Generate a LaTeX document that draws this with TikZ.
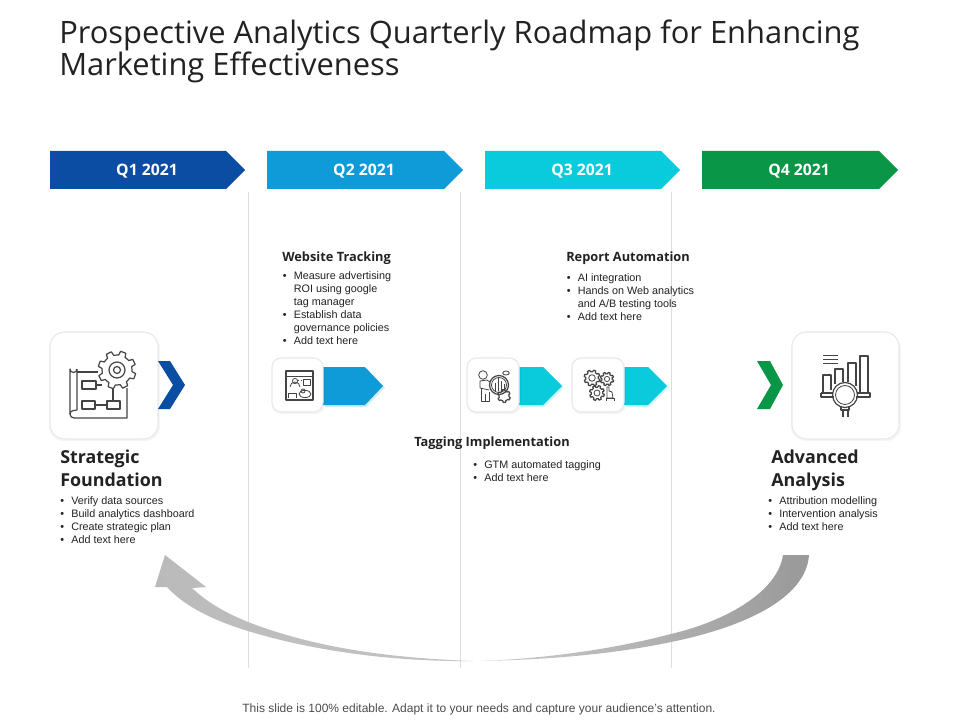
\documentclass[tikz,border=0pt]{standalone}
\usepackage{fontspec}
\setmainfont{Liberation Sans}
\newfontfamily\headfont{Open Sans}
\usetikzlibrary{calc}
\definecolor{qone}{HTML}{0B4DA2}
\definecolor{qtwo}{HTML}{0F9BD7}
\definecolor{qthree}{HTML}{0ACBDB}
\definecolor{qfour}{HTML}{0A9647}
\definecolor{ink}{HTML}{444444}
\definecolor{txt}{HTML}{222222}
\newcommand{\itm}[1]{\makebox[8.3pt][l]{•}#1}
\newcommand{\cnt}[1]{\makebox[8.3pt][l]{}#1}
% gear: cx, cy, outer radius, inner radius, step angle
\newcommand{\gearicon}[5]{%
  \begin{scope}[shift={(#1,#2)}]
    \draw[iconline] (0:#4)
      \foreach \a in {0,#5,...,359}{
        -- (\a+0.14*#5:#4) -- (\a+0.24*#5:#3) -- (\a+0.62*#5:#3) -- (\a+0.72*#5:#4)
        arc[start angle=\a+0.72*#5, end angle=\a+#5, radius=#4]
      } -- cycle;
  \end{scope}}
\tikzset{
  x=0.75pt,y=-0.75pt,
  iconline/.style={draw=ink,line width=0.9pt,line join=round},
  thinicon/.style={draw=ink,line width=0.6pt,line join=round},
  cardbox/.style={draw=black!9,line width=0.8pt,fill=white,rounded corners=11pt},
  smallcard/.style={draw=black!9,line width=0.8pt,fill=white,rounded corners=7pt},
  qlabel/.style={text=white,font=\headfont\bfseries\fontsize{11.8}{12}\selectfont,inner sep=0pt},
  bighead/.style={anchor=north west,align=left,inner sep=0pt,text=txt,font=\headfont\fontsize{13.4}{17.3}\selectfont\bfseries},
  subhead/.style={anchor=west,inner sep=0pt,text=txt,font=\headfont\bfseries\fontsize{9.6}{11}\selectfont},
  bulletlist/.style={anchor=north west,align=left,inner sep=0pt,text=txt,font=\fontsize{8.1}{9.75}\selectfont},
  divider/.style={draw=black!13,line width=0.6pt},
}
\begin{document}
\begin{tikzpicture}
\useasboundingbox (0,0) rectangle (960,720);
\fill[white] (0,0) rectangle (960,720);

% title
\node[anchor=north west,align=left,inner sep=0pt,text=txt,
  font=\headfont\fontsize{23.15}{23.9}\selectfont] (title) at (59,20)
  {Prospective Analytics Quarterly Roadmap for Enhancing\\Marketing Effectiveness};

% dividers
\coordinate (d1a) at (248,192); \coordinate (d1b) at (248,668);
\coordinate (d2a) at (460,192); \coordinate (d2b) at (460,668);
\coordinate (d3a) at (671,192); \coordinate (d3b) at (671,668);
\draw[divider] (d1a) -- (d1b);
\draw[divider] (d2a) -- (d2b);
\draw[divider] (d3a) -- (d3b);

% quarter banners
\fill[qone]   (50,151) -- (226,151) -- (245,170) -- (226,189) -- (50,189) -- cycle;
\fill[qtwo]   (267,151) -- (444,151) -- (463,170) -- (444,189) -- (267,189) -- cycle;
\fill[qthree] (485,151) -- (661,151) -- (680,170) -- (661,189) -- (485,189) -- cycle;
\fill[qfour]  (702,151) -- (879,151) -- (898,170) -- (879,189) -- (702,189) -- cycle;
\node[qlabel] (q1) at (147,171) {Q1 2021};
\node[qlabel] (q2) at (364,171) {Q2 2021};
\node[qlabel] (q3) at (582,171) {Q3 2021};
\node[qlabel] (q4) at (799,171) {Q4 2021};

% left card and chevron
\fill[black,opacity=0.04,rounded corners=11pt] (49,334) rectangle (160,441);
\draw[cardbox] (50,332) rectangle (158,439);
\fill[qone] (158,361) -- (170,361) -- (185,385) -- (170,409) -- (158,409) -- (173,385) -- cycle;

% right card and chevron
\fill[black,opacity=0.04,rounded corners=11pt] (791,334) rectangle (901,441);
\draw[cardbox] (792,332) rectangle (899,439);
\fill[qfour] (757,361) -- (770,361) -- (783,385) -- (770,409) -- (757,409) -- (771,385) -- cycle;

% icon: blueprint with gear
\draw[iconline] (77,372) -- (98,372);
\draw[iconline] (77,369) arc[start angle=0,end angle=180,radius=3.5] -- (70,414) arc[start angle=180,end angle=90,radius=4] -- (127,418) -- (127,388);
\draw[iconline] (70,414) arc[start angle=180,end angle=270,radius=3.5] -- (77,410) -- (77,369);
\draw[iconline] (82,381) rectangle (96,389);
\draw[iconline] (82,401) rectangle (95,409);
\draw[iconline] (107,401) rectangle (120,409);
\draw[iconline] (95,405) -- (107,405);
\draw[iconline] (113,401) -- (113,388);
\draw[iconline] (96,385) -- (102,385);
\gearicon{117}{370}{19}{15}{45}
\draw[iconline] (117,370) circle[radius=8];
\draw[iconline] (117,370) circle[radius=3.5];

% icon: analytics bars under magnifier
\foreach \yy in {355,359,363}{\draw[thinicon] (823,\yy) -- (838,\yy);}
\draw[iconline] (823,392) -- (823,375) -- (831,375) -- (831,390);
\draw[iconline] (835,384) -- (835,369) -- (843,369) -- (843,382);
\draw[iconline] (848,382) -- (848,363) -- (856,363) -- (856,386);
\draw[iconline] (860,392) -- (860,356) -- (868,356) -- (868,392);
\draw[iconline] (821,393) -- (833,393) (821,393) -- (821,397) -- (834,397);
\draw[iconline] (857,393) -- (870,393) -- (870,397) -- (856,397);
\draw[iconline] (845,395) circle[radius=12.5];
\draw[thinicon] (845,395) circle[radius=9.5];
\draw[iconline] (841,407) -- (841,410) -- (849,410) -- (849,407);
\draw[iconline] (843,410) -- (843,417) (848,410) -- (848,417);

% Q2 arrow, card, icon
\fill[qtwo!20] (325,369) -- (366,369) -- (385,387.5) -- (366,407) -- (325,407) -- cycle;
\fill[qtwo] (320,367) -- (365,367) -- (383,386) -- (365,405) -- (320,405) -- cycle;
\fill[black,opacity=0.04,rounded corners=7pt] (272,360) rectangle (325,414);
\draw[smallcard] (272,358) rectangle (323,412);
\draw[iconline] (286,371) rectangle (313,400);
\draw[thinicon] (286,376) -- (313,376);
\draw[thinicon] (303,379) rectangle (310,385);
\draw[thinicon] (295,381) circle[radius=2.6];
\draw[thinicon] (290,387) arc[start angle=180,end angle=360,radius=5] ;
\draw[thinicon,dash pattern=on 1pt off 1pt] (298,380) -- (303,380);
\draw[thinicon] (288,398) -- (288,393) -- (296,393) -- (296,398);
\draw[thinicon] (305,394) ellipse[x radius=6,y radius=3.6];
\draw[thinicon] (303,391) circle[radius=2];

% Q3 first arrow, card, icon
\fill[qthree!20] (521,369) -- (544,369) -- (564,387.5) -- (544,407) -- (521,407) -- cycle;
\fill[qthree] (517,367) -- (543,367) -- (562,386) -- (543,405) -- (517,405) -- cycle;
\fill[black,opacity=0.04,rounded corners=7pt] (467,360) rectangle (521,414);
\draw[smallcard] (467,358) rectangle (519,412);
\draw[thinicon] (483,375) circle[radius=4.3];
\draw[thinicon] (489,390) -- (480,388) -- (480,381) -- (487,380) -- (490,382);
\draw[thinicon] (481,388) -- (481,401) -- (489,401) -- (489,392) (485,394) -- (485,401);
\draw[iconline] (499,385) circle[radius=9.5];
\draw[thinicon] (499,385) circle[radius=7.5];
\foreach \xx/\yy in {495/383,498/378,501/381,504/384}{\draw[thinicon] (\xx,391) -- (\xx,\yy);}
\gearicon{504}{396}{6.5}{5}{60}
\draw[thinicon] (506,373) ellipse[x radius=3.3,y radius=2];

% Q3 second arrow, card, icon
\fill[qthree!20] (626,369) -- (649,369) -- (669,387.5) -- (649,407) -- (626,407) -- cycle;
\fill[qthree] (622,367) -- (648,367) -- (667,386) -- (648,405) -- (622,405) -- cycle;
\fill[black,opacity=0.04,rounded corners=7pt] (572,360) rectangle (626,414);
\draw[smallcard] (572,358) rectangle (624,412);
\gearicon{592}{378}{8}{6.3}{45}
\gearicon{607}{379}{6.8}{5.2}{45}
\gearicon{597}{393}{7.5}{5.8}{45}
\draw[thinicon] (592,378) circle[radius=3.3];
\draw[thinicon] (607,379) circle[radius=2.6];
\draw[thinicon] (597,393) circle[radius=3];
\draw[thinicon,fill=white] (607,394) -- (607,387) -- (609,387) -- (609,391) -- (612,392) -- (613,398) -- (607,398) -- cycle;
\draw[thinicon] (606,401) -- (606,398) -- (614,398) -- (614,401);

% side headings and text
\node[bighead] (sf) at (60,449.5) {Strategic\\Foundation};
\node[bulletlist] (sfl) at (60,496.5) {\itm{Verify data sources}\\\itm{Build analytics dashboard}\\\itm{Create strategic plan}\\\itm{Add text here}};
\node[bighead] (aa) at (771,449.5) {Advanced\\Analysis};
\node[bulletlist] (aal) at (768,496.5) {\itm{Attribution modelling}\\\itm{Intervention analysis}\\\itm{Add text here}};

\node[subhead] (wt) at (282,258) {Website Tracking};
\node[bulletlist] (wtl) at (282.5,271.5) {\itm{Measure advertising}\\\cnt{ROI using google}\\\cnt{tag manager}\\\itm{Establish data}\\\cnt{governance policies}\\\itm{Add text here}};
\node[subhead] (ra) at (566,258) {Report Automation};
\node[bulletlist] (ral) at (566.5,273.5) {\itm{AI integration}\\\itm{Hands on Web analytics}\\\cnt{and A/B testing tools}\\\itm{Add text here}};
\node[subhead] (ti) at (414,443) {Tagging Implementation};
\node[bulletlist] (til) at (473,460.5) {\itm{GTM  automated tagging}\\\itm{Add text here}};

% big return arrows
\shade[left color=black!27,right color=black!23]
  (165,555) -- (206,587) -- (192,588)
  .. controls (208,603) and (226,613) .. (248,622)
  .. controls (315,648) and (390,658) .. (473,661)
  .. controls (390,662) and (310,650) .. (248,631)
  .. controls (215,621) and (185,607) .. (167,587)
  -- (155,587) -- cycle;
\shade[left color=black!20,right color=black!40]
  (783,555) -- (809,555)
  .. controls (806,600) and (740,628) .. (671,642)
  .. controls (610,655) and (540,660) .. (480,661)
  .. controls (540,659) and (610,650) .. (671,634)
  .. controls (730,620) and (778,590) .. (783,555) -- cycle;

% footer
\node[inner sep=0pt,text=black!70,font=\fontsize{9}{10}\selectfont] (foot) at (479,709.5)
  {This slide is 100\% editable. Adapt it to your needs and capture your audience's attention.};
\end{tikzpicture}
\end{document}
